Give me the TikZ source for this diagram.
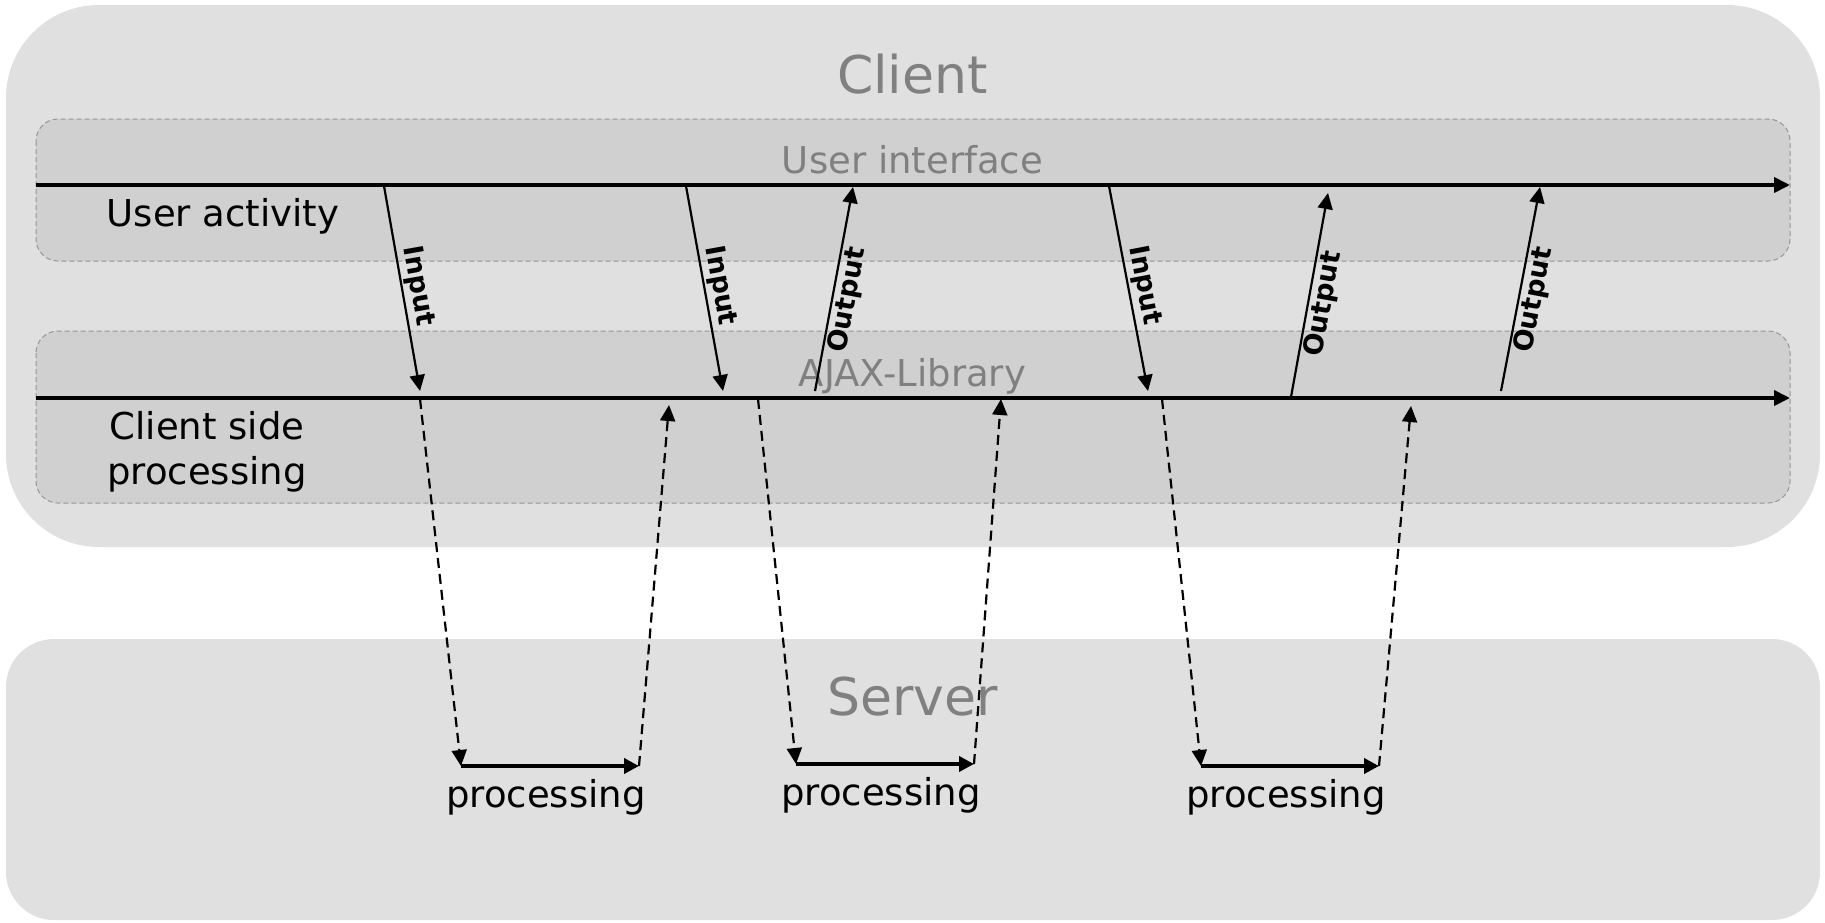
\documentclass[tikz,border=0pt]{standalone}
\usepackage{fontspec}
\setmainfont{DejaVu Sans}
\usetikzlibrary{arrows.meta}
\definecolor{clientfill}{RGB}{224,224,224}
\definecolor{layerfill}{RGB}{208,208,208}
\definecolor{layerborder}{RGB}{150,150,150}
\definecolor{titlegray}{RGB}{128,128,128}
\tikzset{
  outerbox/.style={fill=clientfill, draw=none},
  layerbox/.style={fill=layerfill, draw=layerborder, line width=1pt, dash pattern=on 5pt off 3pt, rounded corners=22pt},
  titletext/.style={text=titlegray, font=\fontsize{52}{60}\selectfont, inner sep=0pt},
  layertext/.style={text=titlegray, font=\fontsize{37}{44}\selectfont, inner sep=0pt},
  plaintext/.style={text=black, font=\fontsize{37}{45}\selectfont, inner sep=0pt, align=center},
  timeline/.style={line width=3.8pt, -{Triangle[length=16pt,width=15pt]}},
  ioarrow/.style={line width=2.2pt, -{Triangle[length=16pt,width=15pt]}},
  netarrow/.style={line width=2.2pt, dash pattern=on 10pt off 6pt, -{Triangle[length=16pt,width=15pt]}},
  procarrow/.style={line width=4pt, -{Triangle[length=15pt,width=15pt]}},
  iolabel/.style={font=\fontsize{27}{31}\selectfont\bfseries, inner sep=2pt, sloped},
}
\begin{document}
\begin{tikzpicture}[x=1pt,y=-1pt]
\useasboundingbox (0,0) rectangle (1825,922);
% boxes
\path[outerbox, rounded corners=93pt] (6,5) rectangle (1820,547);
\path[outerbox, rounded corners=48pt] (6,639) rectangle (1820,920);
\draw[layerbox] (36,119) rectangle (1790,261);
\draw[layerbox] (36,331) rectangle (1790,503);
% titles
\node[titletext] (client) at (912.5,74.5) {Client};
\node[titletext] (server) at (912.5,697) {Server};
\node[layertext] (ui) at (912.5,159.5) {User interface};
\node[layertext] (ajax) at (912.5,376) {AJAX-Library};
\node[plaintext] (ua) at (223,216.5) {User activity};
\node[plaintext] (csp) at (207,451.5) {Client side\\processing};
% timelines
\coordinate (uiL) at (36,185);
\coordinate (uiR) at (1790,185);
\coordinate (ajL) at (36,398);
\coordinate (ajR) at (1790,398);
\draw[timeline] (uiL) -- (uiR);
\draw[timeline] (ajL) -- (ajR);
% input arrows
\coordinate (i1s) at (384,186); \coordinate (i1e) at (420,391);
\coordinate (i2s) at (686,186); \coordinate (i2e) at (723,391);
\coordinate (i3s) at (1109,186); \coordinate (i3e) at (1148,391);
\draw[ioarrow] (i1s) -- node[iolabel, above, pos=0.5] {Input} (i1e);
\draw[ioarrow] (i2s) -- node[iolabel, above, pos=0.5] {Input} (i2e);
\draw[ioarrow] (i3s) -- node[iolabel, above, pos=0.5] {Input} (i3e);
% output arrows
\coordinate (o1s) at (815,391); \coordinate (o1e) at (853,187);
\coordinate (o2s) at (1291,397); \coordinate (o2e) at (1328,193);
\coordinate (o3s) at (1501,391); \coordinate (o3e) at (1540,187);
\draw[ioarrow] (o1s) -- node[iolabel, below, pos=0.46] {Output} (o1e);
\draw[ioarrow] (o2s) -- node[iolabel, below, pos=0.47] {Output} (o2e);
\draw[ioarrow] (o3s) -- node[iolabel, below, pos=0.46] {Output} (o3e);
% server round trips
\coordinate (d1s) at (420,399); \coordinate (p1s) at (461,766);
\coordinate (p1e) at (639,766); \coordinate (u1e) at (669,405);
\coordinate (d2s) at (758,399); \coordinate (p2s) at (796,764);
\coordinate (p2e) at (974,764); \coordinate (u2e) at (1001,399);
\coordinate (d3s) at (1162,399); \coordinate (p3s) at (1201,766);
\coordinate (p3e) at (1379,766); \coordinate (u3e) at (1411,406);
\draw[netarrow] (d1s) -- (p1s);
\draw[netarrow] (p1e) -- (u1e);
\draw[netarrow] (d2s) -- (p2s);
\draw[netarrow] (p2e) -- (u2e);
\draw[netarrow] (d3s) -- (p3s);
\draw[netarrow] (p3e) -- (u3e);
\draw[procarrow] (p1s) -- (p1e);
\draw[procarrow] (p2s) -- (p2e);
\draw[procarrow] (p3s) -- (p3e);
\node[plaintext] (proc1) at (546,797.5) {processing};
\node[plaintext] (proc2) at (881,795.5) {processing};
\node[plaintext] (proc3) at (1286,797.5) {processing};
\end{tikzpicture}
\end{document}
